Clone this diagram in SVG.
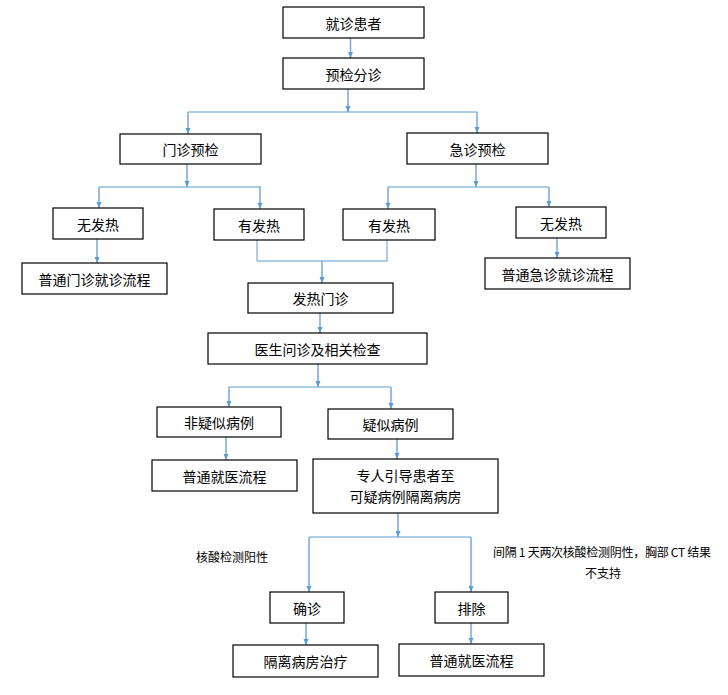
<svg xmlns="http://www.w3.org/2000/svg" width="728" height="695" viewBox="0 0 728 695">
<defs>
<marker id="ah" markerUnits="userSpaceOnUse" markerWidth="6" markerHeight="6" viewBox="0 0 6 6" refX="6" refY="3" orient="auto">
<path d="M0,0.5 L6,3 L0,5.5 z" fill="#5B9BD5"/>
</marker>
<style>
.n rect{fill:#fff;stroke:#000;stroke-width:1.2}
.n text{font-family:"Noto Sans CJK SC","Noto Sans",sans-serif;font-size:14px;fill:#000;text-anchor:middle;dominant-baseline:central}
.h{stroke:#5B9BD5;stroke-width:1;fill:none}
.a{stroke:#7FAEDD;stroke-width:1.6;fill:none;marker-end:url(#ah)}
.lbl{font-family:"Noto Sans CJK SC","Noto Sans",sans-serif;font-size:12px;fill:#000}
</style>
</defs>
<rect width="728" height="695" fill="#fff"/>
<g id="connectors">
<path class="a" d="M350.5,38 V58"/>
<path class="a" d="M348,89 V112"/>
<path class="h" d="M188,112 H477"/>
<path class="a" d="M188,112 V134"/>
<path class="a" d="M477,112 V133"/>
<path class="a" d="M187,164 V187"/>
<path class="h" d="M99,187 H261"/>
<path class="a" d="M99,187 V208"/>
<path class="a" d="M260,187 V209"/>
<path class="a" d="M476,164 V187"/>
<path class="h" d="M388,187 H549"/>
<path class="a" d="M388,187 V209"/>
<path class="a" d="M549,187 V207"/>
<path class="a" d="M97,239 V263"/>
<path class="a" d="M557,238 V258"/>
<path class="h" d="M257,240 V261 H387 V240"/>
<path class="a" d="M322,261 V283"/>
<path class="a" d="M320,313 V333"/>
<path class="a" d="M318,364 V387"/>
<path class="h" d="M229,387 H391"/>
<path class="a" d="M229,387 V407"/>
<path class="a" d="M391,387 V409"/>
<path class="a" d="M226,437 V460"/>
<path class="a" d="M397,439 V459"/>
<path class="a" d="M398,513 V537"/>
<path class="h" d="M309,537 H471"/>
<path class="a" d="M309,537 V592"/>
<path class="a" d="M471,537 V592"/>
<path class="a" d="M306,623 V645"/>
<path class="a" d="M471,623 V644"/>
</g>
<g id="n1" class="n"><rect x="283" y="7" width="141" height="31"/><text x="353.5" y="22.5">就诊患者</text></g>
<g id="n2" class="n"><rect x="283" y="58" width="141" height="31"/><text x="353.5" y="73.5">预检分诊</text></g>
<g id="n3" class="n"><rect x="120" y="134" width="141" height="30"/><text x="190.5" y="149">门诊预检</text></g>
<g id="n4" class="n"><rect x="407" y="133" width="141" height="31"/><text x="477.5" y="148.5">急诊预检</text></g>
<g id="n5" class="n"><rect x="53" y="208" width="90" height="31"/><text x="98" y="223.5">无发热</text></g>
<g id="n6" class="n"><rect x="214" y="209" width="90" height="31"/><text x="259" y="224.5">有发热</text></g>
<g id="n7" class="n"><rect x="343" y="209" width="92" height="31"/><text x="389" y="224.5">有发热</text></g>
<g id="n8" class="n"><rect x="516" y="207" width="90" height="31"/><text x="561" y="222.5">无发热</text></g>
<g id="n9" class="n"><rect x="22" y="263" width="145" height="31"/><text x="94.5" y="278.5">普通门诊就诊流程</text></g>
<g id="n10" class="n"><rect x="485" y="258" width="145" height="31"/><text x="557.5" y="273.5">普通急诊就诊流程</text></g>
<g id="n11" class="n"><rect x="248" y="283" width="145" height="30"/><text x="320.5" y="298">发热门诊</text></g>
<g id="n12" class="n"><rect x="208" y="333" width="219" height="31"/><text x="317.5" y="348.5">医生问诊及相关检查</text></g>
<g id="n13" class="n"><rect x="157" y="407" width="124" height="30"/><text x="219" y="422">非疑似病例</text></g>
<g id="n14" class="n"><rect x="328" y="409" width="125" height="30"/><text x="390.5" y="424">疑似病例</text></g>
<g id="n15" class="n"><rect x="152" y="460" width="145" height="31"/><text x="224.5" y="475.5">普通就医流程</text></g>
<g id="n16" class="n"><rect x="313" y="459" width="185" height="54"/><text x="405.5" y="475">专人引导患者至</text><text x="405.5" y="496">可疑病例隔离病房</text></g>
<g id="n17" class="n"><rect x="270" y="592" width="74" height="31"/><text x="307" y="607.5">确诊</text></g>
<g id="n18" class="n"><rect x="435" y="592" width="73" height="31"/><text x="471.5" y="607.5">排除</text></g>
<g id="n19" class="n"><rect x="233" y="645" width="145" height="32"/><text x="305.5" y="661">隔离病房治疗</text></g>
<g id="n20" class="n"><rect x="399" y="644" width="145" height="32"/><text x="471.5" y="660">普通就医流程</text></g>
<g id="labels">
<text class="lbl" x="196" y="562">核酸检测阳性</text>
<text class="lbl" x="493" y="557" textLength="218" lengthAdjust="spacing">间隔 1 天两次核酸检测阴性，胸部 CT 结果</text>
<text class="lbl" x="603" y="578" text-anchor="middle">不支持</text>
</g>
</svg>
